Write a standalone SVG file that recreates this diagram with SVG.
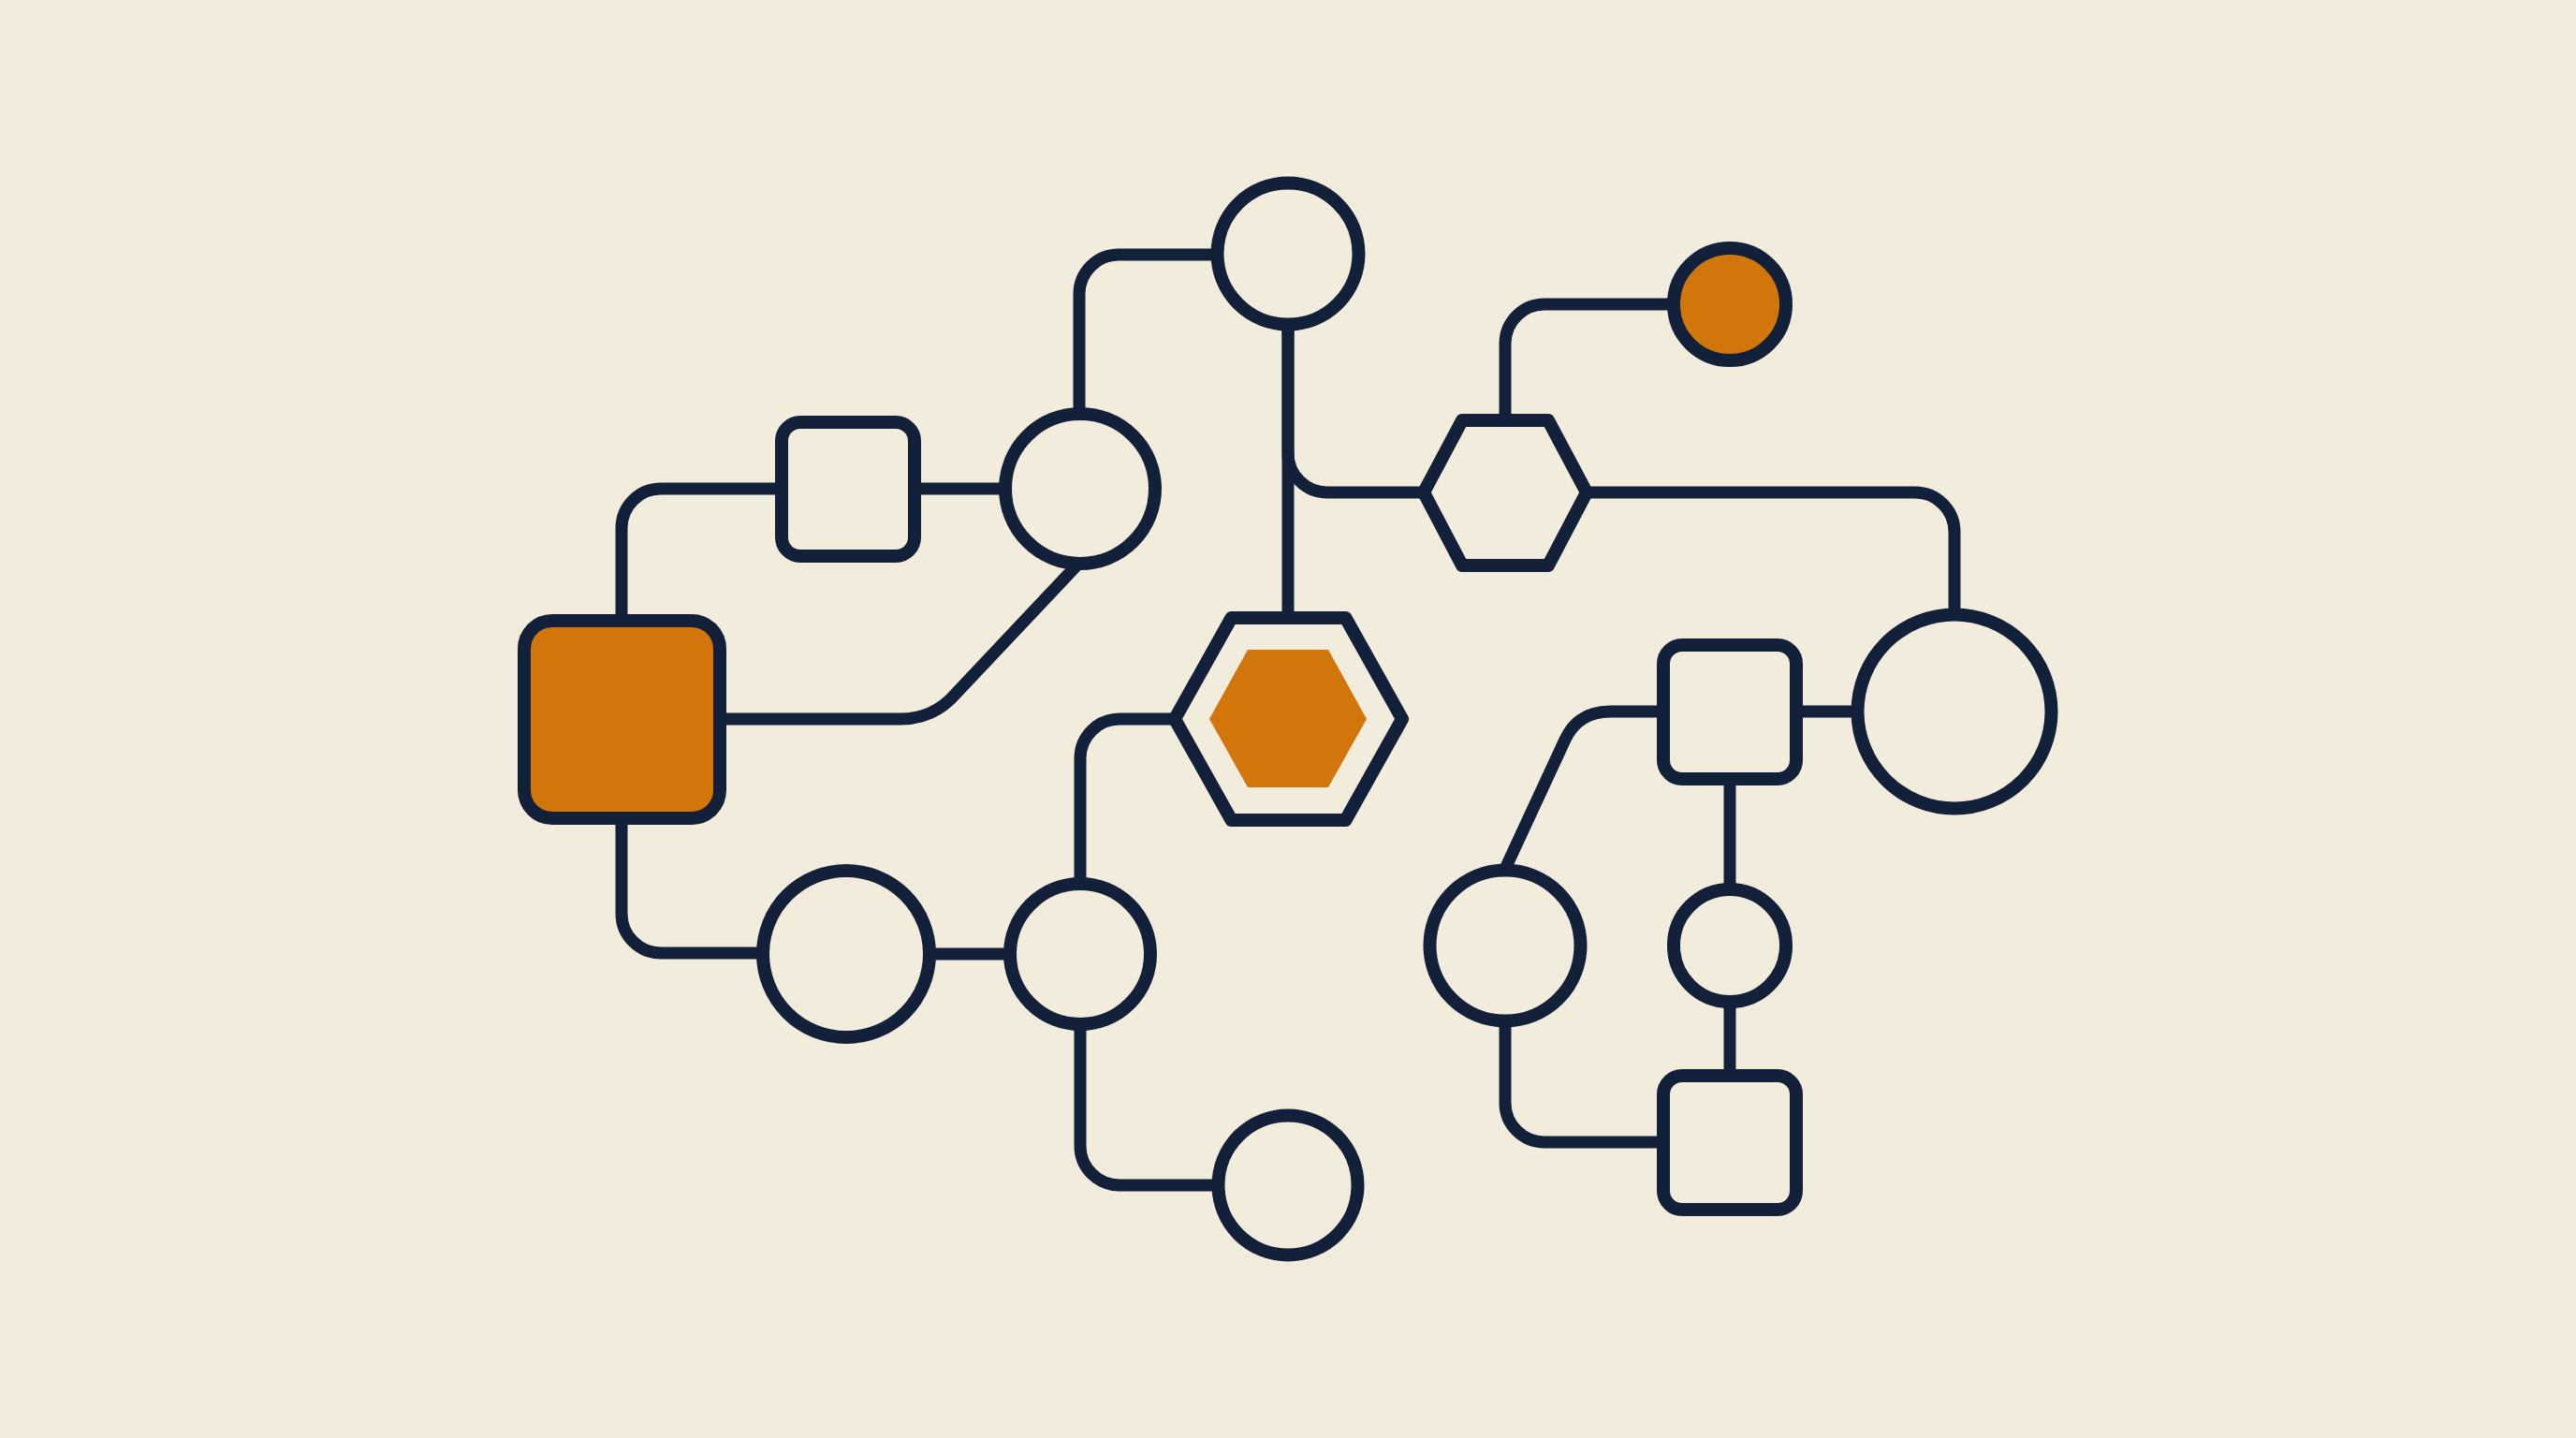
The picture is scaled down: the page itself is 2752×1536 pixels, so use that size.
<svg xmlns="http://www.w3.org/2000/svg" width="2752" height="1536" viewBox="0 0 2752 1536">
<style>
.c{fill:none;stroke:#13203A;stroke-width:13;stroke-linecap:butt;stroke-linejoin:round}
.n{fill:#F2ECDD;stroke:#13203A;stroke-width:14;stroke-linejoin:round}
.o{fill:#D2760C;stroke:#13203A;stroke-width:14;stroke-linejoin:round}
.f{fill:#D2760C}
</style>
<rect width="2752" height="1536" fill="#F2ECDD"/>
<g id="connectors">
<path class="c" d="M906 522 L706 522 A42 42 0 0 0 664 564 L664 768"/>
<path class="c" d="M906 522 L1154 522"/>
<path class="c" d="M1376 272 L1195 272 A42 42 0 0 0 1153 314 L1153 522"/>
<path class="c" d="M664 768 L962 768 Q997 768 1020 742 L1154 600"/>
<path class="c" d="M664 768 L664 976 A42 42 0 0 0 706 1018 L904 1018"/>
<path class="c" d="M904 1019 L1154 1019"/>
<path class="c" d="M1154 1019 L1154 810 A42 42 0 0 1 1196 768 L1376 768"/>
<path class="c" d="M1154 1019 L1154 1224 A42 42 0 0 0 1196 1266 L1376 1266"/>
<path class="c" d="M1376 272 L1376 768"/>
<path class="c" d="M1376 272 L1376 484 A42 42 0 0 0 1418 526 L1608 526"/>
<path class="c" d="M1608 526 L1608 367 A42 42 0 0 1 1650 325 L1848 325"/>
<path class="c" d="M1608 526 L2046 526 A42 42 0 0 1 2088 568 L2088 760"/>
<path class="c" d="M1848 760 L2088 760"/>
<path class="c" d="M1848 760 L1720 760 Q1686 760 1672 790 L1608 928"/>
<path class="c" d="M1608 1010 L1608 1178 A42 42 0 0 0 1650 1220 L1848 1220"/>
<path class="c" d="M1848 760 L1848 1220"/>
</g>
<g id="node-orange-square"><rect class="o" x="560" y="663" width="209" height="211" rx="30"/></g>
<g id="node-small-square"><rect class="n" x="835" y="451" width="142" height="143" rx="20"/></g>
<g id="node-circle-c1"><circle class="n" cx="1154" cy="522" r="80"/></g>
<g id="node-top-circle"><circle class="n" cx="1376" cy="271" r="75.5"/></g>
<g id="node-orange-circle"><circle class="o" cx="1848" cy="325" r="60"/></g>
<g id="node-small-hex"><polygon class="n" points="1521,526 1562,449 1654,449 1695,526 1654,604 1562,604"/></g>
<g id="node-big-hex">
<polygon class="n" points="1255,768 1315.5,660 1437.5,660 1498,768 1437.5,876 1315.5,876"/>
<polygon class="f" points="1292,768 1333,694 1419,694 1460,768 1419,841 1333,841"/>
</g>
<g id="node-circle-a"><circle class="n" cx="904" cy="1019" r="89"/></g>
<g id="node-circle-b"><circle class="n" cx="1154" cy="1019" r="75"/></g>
<g id="node-bottom-circle"><circle class="n" cx="1376" cy="1266" r="74.5"/></g>
<g id="node-big-circle"><circle class="n" cx="2088" cy="760" r="103.5"/></g>
<g id="node-right-square-top"><rect class="n" x="1777" y="689" width="142" height="143" rx="20"/></g>
<g id="node-mid-circle"><circle class="n" cx="1848" cy="1010" r="60"/></g>
<g id="node-left-circle"><circle class="n" cx="1608" cy="1010" r="80.5"/></g>
<g id="node-right-square-bottom"><rect class="n" x="1777" y="1149" width="142" height="143" rx="20"/></g>
</svg>
